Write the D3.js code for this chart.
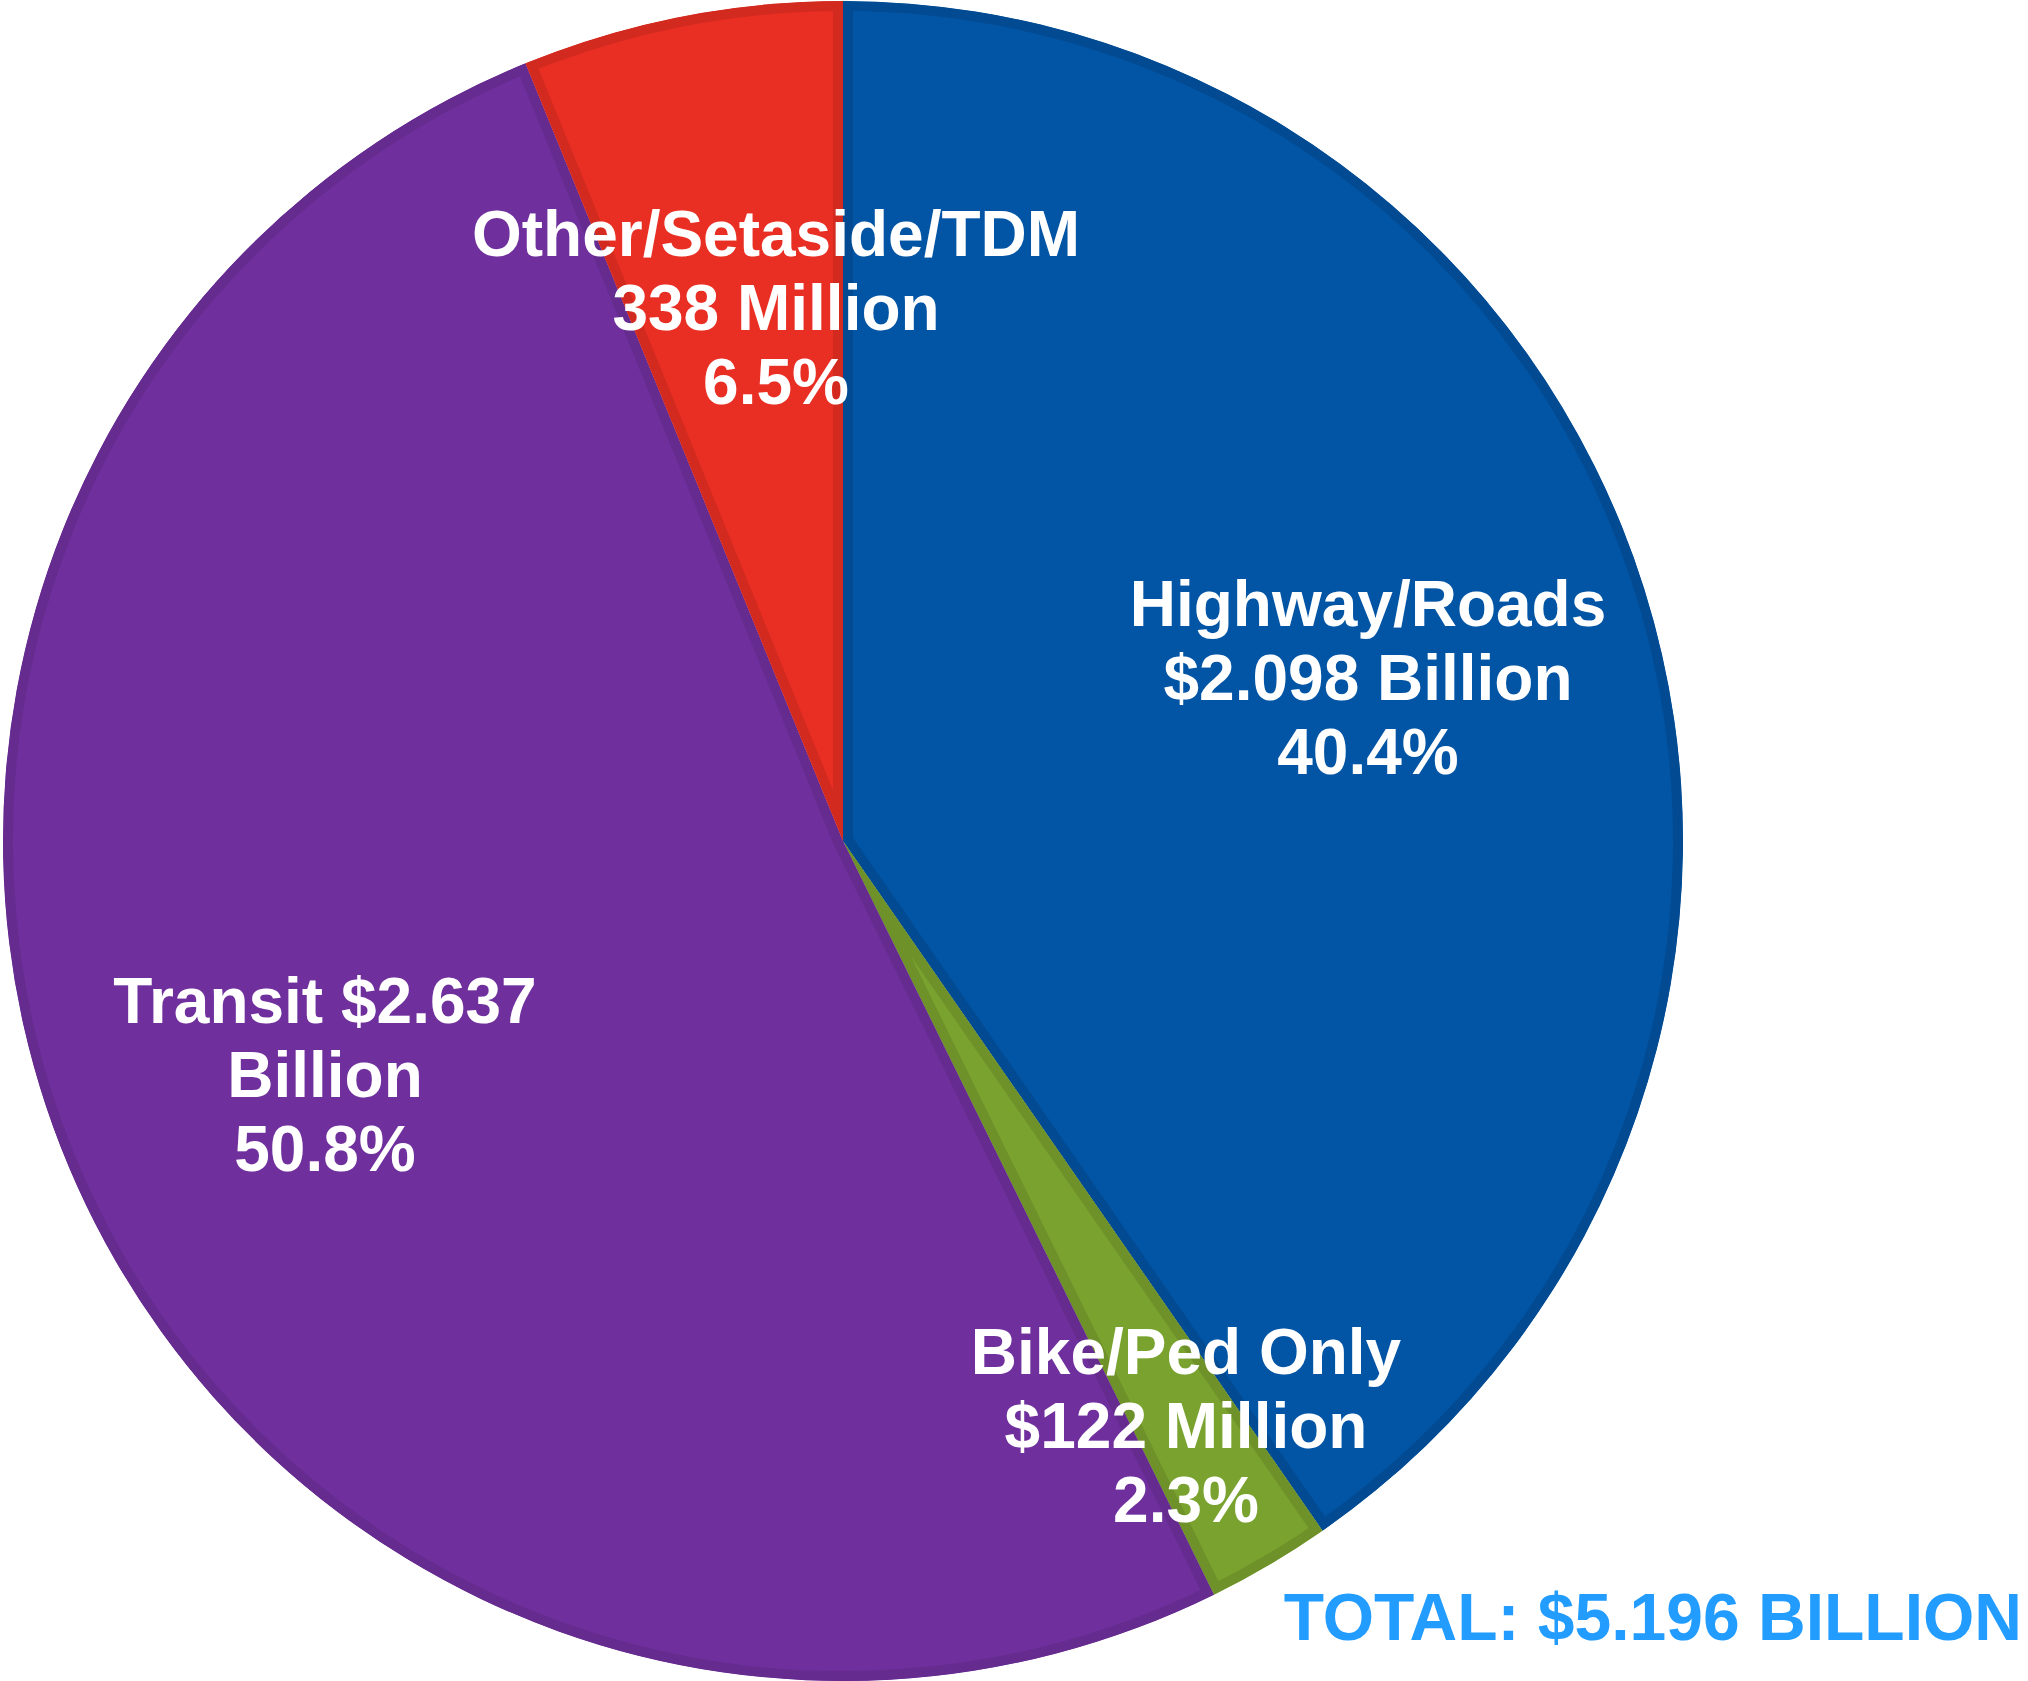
<!DOCTYPE html>
<html>
<head>
<meta charset="utf-8">
<script src="https://cdn.jsdelivr.net/npm/d3@7"></script>
<style>
  html, body { margin: 0; padding: 0; background: #ffffff; }
  svg { display: block; }
</style>
</head>
<body>
<svg id="chart" width="2028" height="1681"></svg>
<script>
// ---- data ----
const categories = ["Highway/Roads", "Bike/Ped Only", "Transit", "Other/Setaside/TDM"];
// slice shares (%) as drawn in the picture
const sliceShares = [40.33, 2.39, 51.11, 6.17];
const labelLines = [
  ["Highway/Roads", "$2.098 Billion", "40.4%"],
  ["Bike/Ped Only", "$122 Million", "2.3%"],
  ["Transit $2.637", "Billion", "50.8%"],
  ["Other/Setaside/TDM", "338 Million", "6.5%"]
];
const totalLabel = "TOTAL: $5.196 BILLION";

// ---- styles / layout ----
const fillColors = ["#0254A4", "#79A22F", "#6F2F9C", "#E92F24"];
const edgeColors = ["#024B93", "#6E912A", "#652B8F", "#D32A20"];
const cx = 843, cy = 841, R = 840;
const labelOffsets = [[525, -215], [343, 533], [-518, 182], [-67, -585]];
const fontSize = 64, lineH = 74;

const svg = d3.select("#chart");
const g = svg.append("g").attr("transform", `translate(${cx},${cy})`);

const pie = d3.pie().sort(null).value(d => d.v).startAngle(0).endAngle(2 * Math.PI);
const arcs = pie(categories.map((c, i) => ({ c, v: sliceShares[i], i })));
const arc = d3.arc().innerRadius(0).outerRadius(R);

const defs = svg.append("defs");
arcs.forEach((a, i) => {
  defs.append("clipPath").attr("id", "clip" + i)
    .append("path").attr("d", arc(a));
});

g.selectAll("path.slice")
  .data(arcs)
  .join("path")
  .attr("class", "slice")
  .attr("d", arc)
  .attr("fill", (d, i) => fillColors[i])
  .attr("stroke", (d, i) => edgeColors[i])
  .attr("stroke-width", 20)
  .attr("stroke-linejoin", "miter")
  .attr("clip-path", (d, i) => `url(#clip${i})`);

// labels
const lg = g.append("g")
  .attr("font-family", "'Liberation Sans', Arial, sans-serif")
  .attr("font-weight", "bold")
  .attr("font-size", fontSize)
  .attr("fill", "#ffffff")
  .attr("text-anchor", "middle");

labelLines.forEach((lines, i) => {
  const [ox, oy] = labelOffsets[i];
  const t = lg.append("text").attr("x", ox).attr("y", oy);
  lines.forEach((ln, j) => {
    t.append("tspan").attr("x", ox).attr("y", oy + j * lineH).text(ln);
  });
});

svg.append("text")
  .attr("x", 2022)
  .attr("y", 1640)
  .attr("text-anchor", "end")
  .attr("font-family", "'Liberation Sans', Arial, sans-serif")
  .attr("font-weight", "bold")
  .attr("font-size", 66)
  .attr("fill", "#229CFF")
  .text(totalLabel);
</script>
</body>
</html>
